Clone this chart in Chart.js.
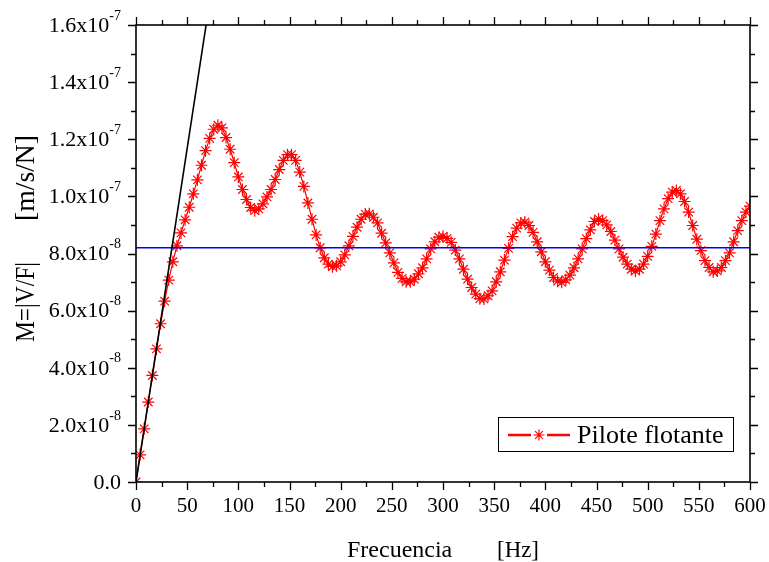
<!DOCTYPE html>
<html>
<head>
<meta charset="utf-8">
<script src="https://cdn.jsdelivr.net/npm/chart.js@4/dist/chart.umd.min.js"></script>
<style>
  body { margin: 0; background: #fff; }
  #wrap { width: 769px; height: 562px; }
</style>
</head>
<body>
<div id="wrap"><canvas id="mobilityChart" width="769" height="562"></canvas></div>
<script>
// Frequency samples [Hz]
const freqHz = [
    0, 4, 8, 12, 16, 20, 24, 28, 32, 36, 40, 44, 48, 52, 56, 60, 64, 68, 72, 76,
    80, 84, 88, 92, 96, 100, 104, 108, 112, 116, 120, 124, 128, 132, 136, 140, 144, 148, 152, 156,
    160, 164, 168, 172, 176, 180, 184, 188, 192, 196, 200, 204, 208, 212, 216, 220, 224, 228, 232, 236,
    240, 244, 248, 252, 256, 260, 264, 268, 272, 276, 280, 284, 288, 292, 296, 300, 304, 308, 312, 316,
    320, 324, 328, 332, 336, 340, 344, 348, 352, 356, 360, 364, 368, 372, 376, 380, 384, 388, 392, 396,
    400, 404, 408, 412, 416, 420, 424, 428, 432, 436, 440, 444, 448, 452, 456, 460, 464, 468, 472, 476,
    480, 484, 488, 492, 496, 500, 504, 508, 512, 516, 520, 524, 528, 532, 536, 540, 544, 548, 552, 556,
    560, 564, 568, 572, 576, 580, 584, 588, 592, 596, 600
];

// Mobility |V/F| of the floating pile, in units of 1e-8 m/s/N
const mobility = [
    0.00, 0.95, 1.86, 2.80, 3.73, 4.66, 5.54, 6.33, 7.07, 7.71, 8.27, 8.72, 9.18, 9.62, 10.09, 10.58, 11.09, 11.60, 12.03, 12.35,
    12.49, 12.40, 12.06, 11.65, 11.18, 10.68, 10.24, 9.89, 9.61, 9.50, 9.56, 9.74, 9.98, 10.24, 10.59, 10.94, 11.26, 11.46, 11.46, 11.26,
    10.85, 10.35, 9.77, 9.20, 8.65, 8.20, 7.85, 7.63, 7.54, 7.57, 7.71, 7.95, 8.27, 8.60, 8.92, 9.20, 9.38, 9.39, 9.27, 9.07,
    8.71, 8.37, 8.02, 7.67, 7.34, 7.13, 7.01, 7.01, 7.10, 7.29, 7.50, 7.81, 8.16, 8.41, 8.57, 8.60, 8.53, 8.39, 8.12, 7.81,
    7.45, 7.10, 6.81, 6.58, 6.42, 6.41, 6.52, 6.69, 7.01, 7.36, 7.77, 8.18, 8.59, 8.89, 9.07, 9.10, 8.98, 8.74, 8.41, 8.06,
    7.71, 7.42, 7.16, 7.03, 6.99, 7.08, 7.24, 7.50, 7.81, 8.16, 8.52, 8.83, 9.12, 9.21, 9.15, 9.00, 8.77, 8.47, 8.16, 7.87,
    7.63, 7.45, 7.39, 7.45, 7.63, 7.90, 8.25, 8.68, 9.15, 9.56, 9.92, 10.15, 10.21, 10.09, 9.82, 9.45, 8.98, 8.50, 8.10, 7.75,
    7.51, 7.36, 7.39, 7.51, 7.75, 8.02, 8.41, 8.80, 9.15, 9.45, 9.66
];

// Low-frequency asymptote (black) and mean level (blue), same units
const asymptoteX = [0, 68.5];
const asymptoteY = [0, 16];
const meanLevelX = [0, 600];
const meanLevelY = [8.2, 8.2];

// Axis ticks
const xTickValues = [0, 50, 100, 150, 200, 250, 300, 350, 400, 450, 500, 550, 600];
const xTickLabels = ['0', '50', '100', '150', '200', '250', '300', '350', '400', '450', '500', '550', '600'];
const yTickValues = [0, 2, 4, 6, 8, 10, 12, 14, 16];
const yTickMantissa = ['0.0', '2.0x10', '4.0x10', '6.0x10', '8.0x10', '1.0x10', '1.2x10', '1.4x10', '1.6x10'];
const yTickExponent = ['', '-8', '-8', '-8', '-8', '-7', '-7', '-7', '-7'];

const seriesLabel = 'Pilote flotante';

const SERIF = '"Liberation Serif", "Times New Roman", serif';

const toPoints = (xs, ys) => xs.map((x, i) => ({ x: x, y: ys[i] }));

// Frame, ticks, tick labels, axis titles and legend (Origin-style)
const framePlugin = {
    id: 'frame',
    afterDraw(chart) {
        const { ctx, chartArea: a, scales } = chart;
        const xs = scales.x, ys = scales.y;
        ctx.save();
        ctx.strokeStyle = '#000';
        ctx.lineWidth = 1.6;
        ctx.strokeRect(a.left, a.top, a.right - a.left, a.bottom - a.top);

        // x ticks: major every 50, minor every 25, outward on bottom and top
        ctx.lineWidth = 1.3;
        for (let v = 0; v <= 600; v += 25) {
            const len = v % 50 === 0 ? 8 : 5;
            const px = Math.round(xs.getPixelForValue(v)) + 0.5;
            ctx.beginPath();
            ctx.moveTo(px, a.bottom); ctx.lineTo(px, a.bottom + len);
            ctx.moveTo(px, a.top); ctx.lineTo(px, a.top - len);
            ctx.stroke();
        }
        // y ticks: major every 2, minor every 1, outward on left and right
        for (let v = 0; v <= 16; v += 1) {
            const len = v % 2 === 0 ? 8 : 5;
            const py = Math.round(ys.getPixelForValue(v)) + 0.5;
            ctx.beginPath();
            ctx.moveTo(a.left, py); ctx.lineTo(a.left - len, py);
            ctx.moveTo(a.right, py); ctx.lineTo(a.right + len, py);
            ctx.stroke();
        }

        ctx.fillStyle = '#000';
        // x tick labels
        ctx.font = '21px ' + SERIF;
        ctx.textAlign = 'center';
        ctx.textBaseline = 'middle';
        xTickValues.forEach((v, i) => {
            ctx.fillText(xTickLabels[i], xs.getPixelForValue(v), a.bottom + 24);
        });

        // y tick labels with superscript exponents
        const labelRight = a.left - 15;
        yTickValues.forEach((v, i) => {
            const py = ys.getPixelForValue(v);
            ctx.font = '14px ' + SERIF;
            const expW = ctx.measureText(yTickExponent[i]).width;
            ctx.textAlign = 'left';
            ctx.fillText(yTickExponent[i], labelRight - expW, py - 9);
            ctx.font = '22px ' + SERIF;
            ctx.textAlign = 'right';
            ctx.fillText(yTickMantissa[i], labelRight - expW, py + 1);
        });

        // axis titles
        ctx.font = '24px ' + SERIF;
        ctx.textBaseline = 'alphabetic';
        ctx.textAlign = 'left';
        ctx.fillText('Frecuencia', 347, 557, 106);
        ctx.textAlign = 'right';
        ctx.fillText('[Hz]', 539, 557, 42);

        ctx.save();
        ctx.translate(34, 0);
        ctx.rotate(-Math.PI / 2);
        ctx.font = '28px ' + SERIF;
        ctx.textAlign = 'left';
        ctx.fillText('M=|V/F|', -342, 0, 80);
        ctx.textAlign = 'right';
        ctx.fillText('[m/s/N]', -135, 0, 86);
        ctx.restore();

        // legend box
        ctx.lineWidth = 1;
        ctx.strokeRect(498.5, 417.5, 235, 34);
        ctx.strokeStyle = '#ff0000';
        ctx.lineWidth = 2.5;
        ctx.beginPath();
        ctx.moveTo(508, 435); ctx.lineTo(531, 435);
        ctx.moveTo(547, 435); ctx.lineTo(570, 435);
        ctx.stroke();
        ctx.lineWidth = 1.2;
        ctx.beginPath();
        const r = 5.5;
        for (let k = 0; k < 4; k++) {
            const ang = k * Math.PI / 4;
            ctx.moveTo(539 - r * Math.cos(ang), 435 - r * Math.sin(ang));
            ctx.lineTo(539 + r * Math.cos(ang), 435 + r * Math.sin(ang));
        }
        ctx.stroke();
        ctx.fillStyle = '#000';
        ctx.font = '26px ' + SERIF;
        ctx.textBaseline = 'middle';
        ctx.textAlign = 'left';
        ctx.fillText(seriesLabel, 577, 436, 152);
        ctx.restore();
    }
};

const ctx = document.getElementById('mobilityChart').getContext('2d');
new Chart(ctx, {
    type: 'line',
    data: {
        datasets: [
            {
                label: 'asymptote',
                data: toPoints(asymptoteX, asymptoteY),
                borderColor: '#000000',
                borderWidth: 1.6,
                pointRadius: 0,
                fill: false,
                order: 0
            },
            {
                label: 'mean',
                data: toPoints(meanLevelX, meanLevelY),
                borderColor: '#0000ff',
                borderWidth: 1.6,
                pointRadius: 0,
                fill: false,
                order: 1
            },
            {
                label: seriesLabel,
                data: toPoints(freqHz, mobility),
                borderColor: '#ff0000',
                borderWidth: 1.2,
                pointStyle: 'star',
                pointRadius: 6,
                pointBorderWidth: 1.2,
                pointBorderColor: '#ff0000',
                pointBackgroundColor: '#ff0000',
                fill: false,
                tension: 0,
                order: 2
            }
        ]
    },
    options: {
        responsive: false,
        animation: false,
        layout: { padding: { left: 136, right: 19, top: 25, bottom: 80 } },
        scales: {
            x: { type: 'linear', min: 0, max: 600, display: false },
            y: { type: 'linear', min: 0, max: 16, display: false }
        },
        plugins: {
            legend: { display: false },
            tooltip: { enabled: false },
            title: { display: false }
        }
    },
    plugins: [framePlugin]
});
</script>
</body>
</html>
